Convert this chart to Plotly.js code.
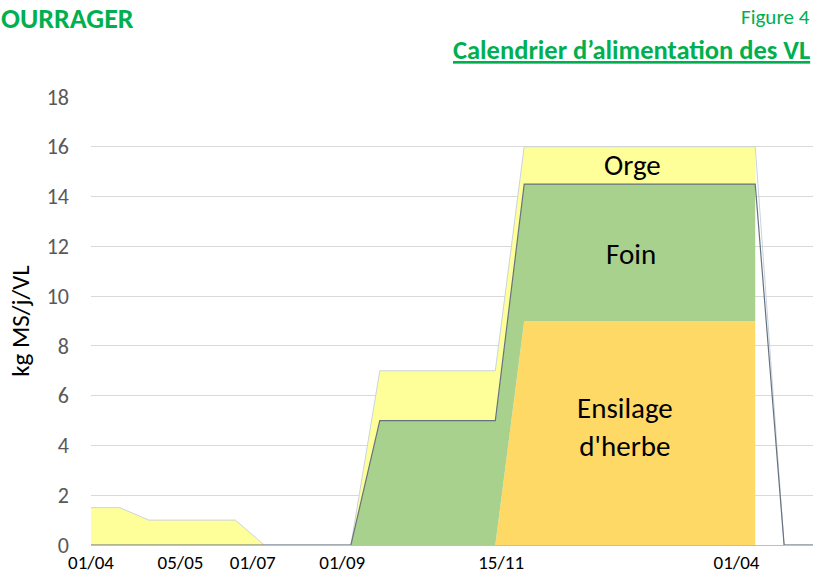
<!DOCTYPE html>
<html>
<head>
<meta charset="utf-8">
<script src="https://cdn.plot.ly/plotly-3.0.1.min.js"></script>
<style>
html,body{margin:0;padding:0;background:#fff;}
#chart{width:822px;height:575px;}
</style>
</head>
<body>
<div id="chart"></div>
<script>
// Period index (26 points along the year, category axis)
const periods = [0,1,2,3,4,5,6,7,8,9,10,11,12,13,14,15,16,17,18,19,20,21,22,23,24,25];
// Ration components, kg MS/j/VL (stacked)
const ensilage = [0,0,0,0,0,0,0,0,0,0,0,0,0,0,0,9,9,9,9,9,9,9,9,9,0,0];
const foin     = [0,0,0,0,0,0,0,0,0,0,5,5,5,5,5,5.5,5.5,5.5,5.5,5.5,5.5,5.5,5.5,5.5,0,0];
const orge     = [1.5,1.5,1,1,1,1,0,0,0,0,2,2,2,2,2,1.5,1.5,1.5,1.5,1.5,1.5,1.5,1.5,1.5,0,0];
// Last index of the filled areas
const lastFilled = 23;
// X tick labels and their positions (in period units)
const tickPos  = [0, 3.1, 5.6, 8.7, 14.2, 22.35];
const tickText = ['01/04','05/05','01/07','01/09','15/11','01/04'];
// Labels inside the areas
const labelText = ['Orge','Foin','Ensilage<br>d\'herbe'];
const labelX = [18.75, 18.7, 18.48];
const labelY = [15.25, 11.7, 4.75];

const FONT = 'Calibri, Carlito, Lato, sans-serif';
const cumFoin = ensilage.map((v,i)=>v+foin[i]);
const cumOrge = cumFoin.map((v,i)=>v+orge[i]);
const xs = periods.slice(0,lastFilled+1);

const traces = [
  {x: xs, y: ensilage.slice(0,lastFilled+1), type:'scatter', mode:'lines', stackgroup:'s',
   fillcolor:'#FFD966', line:{width:0,color:'#FFD966'}, name:'Ensilage d\'herbe', hoverinfo:'skip'},
  {x: xs, y: foin.slice(0,lastFilled+1), type:'scatter', mode:'lines', stackgroup:'s',
   fillcolor:'#A9D18E', line:{width:0,color:'#A9D18E'}, name:'Foin', hoverinfo:'skip'},
  {x: xs, y: orge.slice(0,lastFilled+1), type:'scatter', mode:'lines', stackgroup:'s',
   fillcolor:'#FFFF99', line:{width:0,color:'#FFFF99'}, name:'Orge', hoverinfo:'skip'},
  {x: periods, y: cumOrge, type:'scatter', mode:'lines', line:{width:1,color:'#CAD3DE'}, hoverinfo:'skip'},
  {x: periods, y: cumFoin, type:'scatter', mode:'lines', line:{width:1.2,color:'#66727F'}, hoverinfo:'skip'}
];

const annotations = labelText.map((t,i)=>({
  x: labelX[i], y: labelY[i], xref:'x', yref:'y', text: t, showarrow:false,
  font:{family:FONT, size:29, color:'#000'}, xanchor:'center', yanchor:'middle'
}));
annotations.push(
  {xref:'paper', yref:'paper', x:-0.128, y:1.176, xanchor:'left', yanchor:'middle', showarrow:false,
   text:'<b>OURRAGER</b>', font:{family:FONT, size:28, color:'#00B050'}},
  {xref:'paper', yref:'paper', x:0.999, y:1.178, xanchor:'right', yanchor:'middle', showarrow:false,
   text:'Figure 4', font:{family:FONT, size:21, color:'#00B050'}},
  {xref:'paper', yref:'paper', x:0.999, y:1.105, xanchor:'right', yanchor:'middle', showarrow:false,
   text:'<b><u>Calendrier d’alimentation des VL</u></b>', font:{family:FONT, size:26.5, color:'#00B050'}}
);

const layout = {
  width:822, height:575,
  margin:{l:91, r:9, t:97, b:30, pad:0},
  paper_bgcolor:'#fff', plot_bgcolor:'#fff',
  showlegend:false,
  xaxis:{range:[0,25], tickvals:tickPos, ticktext:tickText, showgrid:false, zeroline:false,
         showline:false, ticks:'', tickfont:{family:FONT, size:19, color:'#000'}, ticklabelstandoff:4, fixedrange:true},
  yaxis:{range:[0,18], dtick:2, showgrid:true, gridcolor:'#D9D9D9', gridwidth:1, zeroline:true, zerolinecolor:'#BFBFBF',
         showline:false, ticks:'', tickfont:{family:FONT, size:22, color:'#595959'}, ticklabelstandoff:21,
         title:{text:'kg MS/j/VL', font:{family:FONT, size:25, color:'#000'}, standoff:9}, fixedrange:true},
  annotations: annotations
};
Plotly.newPlot('chart', traces, layout, {displayModeBar:false, staticPlot:true});
</script>
</body>
</html>
